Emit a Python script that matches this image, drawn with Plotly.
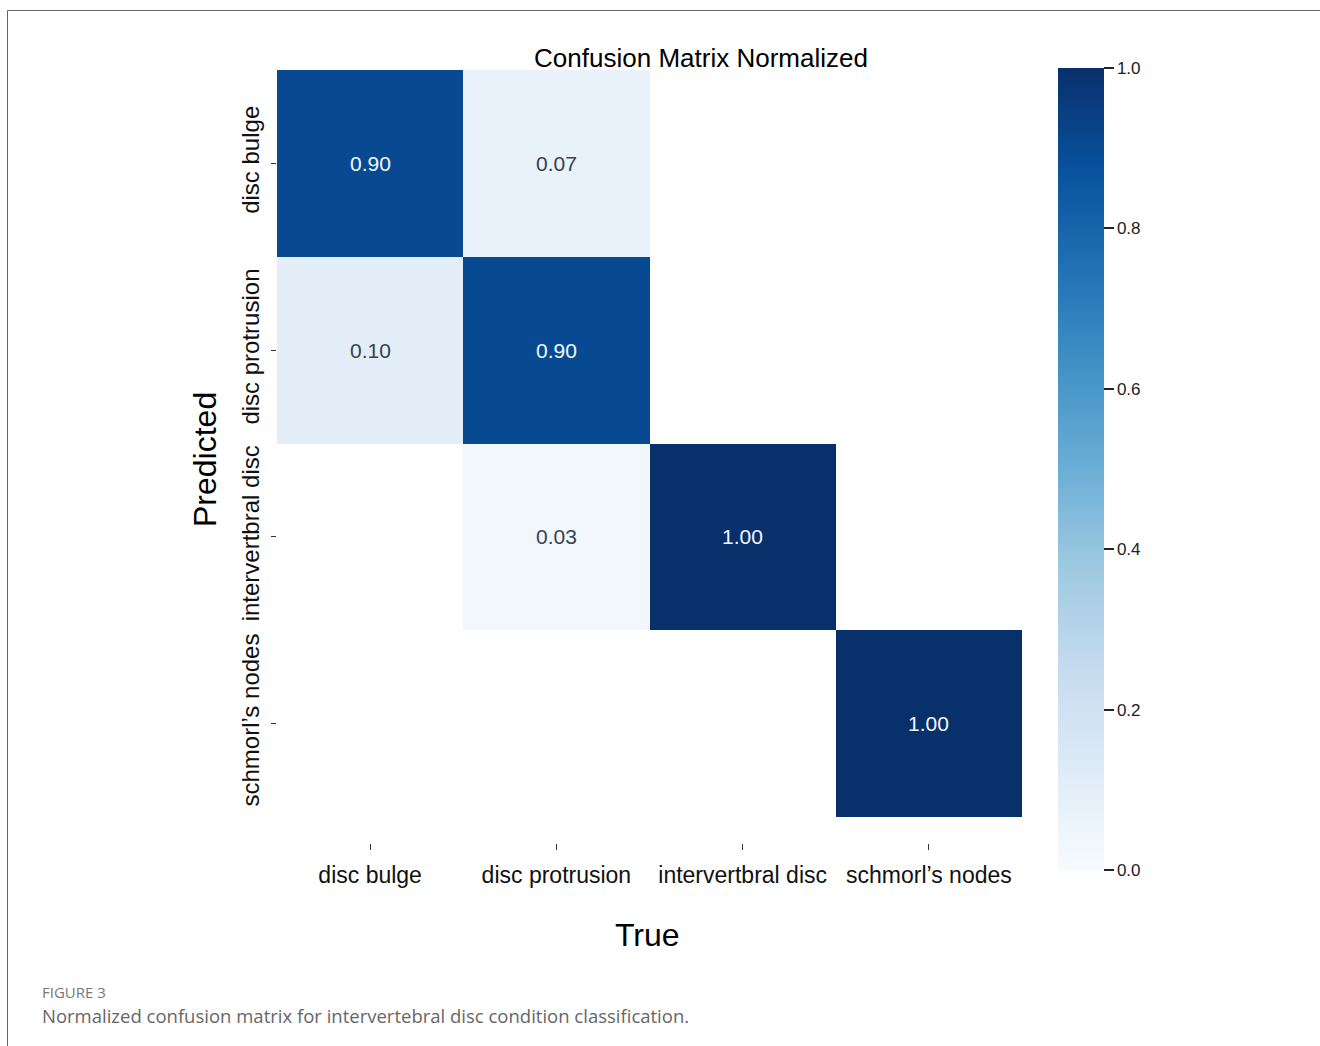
import plotly.graph_objects as go

# ---- data ----
true_labels = ["disc bulge", "disc protrusion", "intervertbral disc", "schmorl\u2019s nodes"]
pred_labels = ["disc bulge", "disc protrusion", "intervertbral disc", "schmorl\u2019s nodes"]
# rows = predicted, columns = true
row_disc_bulge = [0.90, 0.07, 0.00, 0.00]
row_disc_protrusion = [0.10, 0.90, 0.00, 0.00]
row_intervertbral = [0.00, 0.03, 1.00, 0.00]
row_schmorl = [0.00, 0.00, 0.00, 1.00]
matrix = [row_disc_bulge, row_disc_protrusion, row_intervertbral, row_schmorl]
cbar_ticks = [0.0, 0.2, 0.4, 0.6, 0.8, 1.0]

# ---- layout geometry (pixels) ----
W, H = 1320, 1046
L, R, T, B = 277, 1022, 70, 843
pw, ph = R - L, B - T

def px(xp):
    return (xp - L) / pw

def py(yp):
    return (B - yp) / ph

masked = [[v if v > 0 else None for v in row] for row in matrix]

fig = go.Figure()
fig.add_trace(go.Heatmap(
    z=masked, x=true_labels, y=pred_labels,
    colorscale="Blues", zmin=0, zmax=1,
    hoverongaps=False,
    colorbar=dict(
        x=px(1058), xanchor="left",
        y=py(870), yanchor="bottom",
        lenmode="pixels", len=802,
        thickness=46, xpad=0, ypad=0,
        outlinewidth=0,
        tickvals=cbar_ticks, ticktext=[f"{t:.1f}" for t in cbar_ticks],
        ticks="outside", ticklen=10, tickwidth=1.5, tickcolor="#222",
        tickfont=dict(family="Liberation Sans, Arial", size=17, color="#222"),
    ),
))

annotations = []
for i, row in enumerate(matrix):
    for j, v in enumerate(row):
        if v > 0:
            annotations.append(dict(
                x=true_labels[j], y=pred_labels[i], xref="x", yref="y",
                text=f"{v:.2f}", showarrow=False,
                font=dict(family="Liberation Sans, Arial", size=21,
                          color="#f4f7fc" if v > 0.5 else "#3b414c"),
            ))

annotations += [
    dict(x=px(205), y=py(460), xref="paper", yref="paper", text="Predicted",
         textangle=-90, showarrow=False, xanchor="center", yanchor="middle",
         font=dict(family="Liberation Sans, Arial", size=32, color="#000")),
    dict(x=px(647), y=py(935), xref="paper", yref="paper", text="True",
         showarrow=False, xanchor="center", yanchor="middle",
         font=dict(family="Liberation Sans, Arial", size=32, color="#000")),
    dict(x=px(40), y=py(992), xref="paper", yref="paper", text="FIGURE 3",
         showarrow=False, xanchor="left", yanchor="middle",
         font=dict(family="Open Sans", size=15, color="#777")),
    dict(x=px(40), y=py(1015), xref="paper", yref="paper",
         text="Normalized confusion matrix for intervertebral disc condition classification.",
         showarrow=False, xanchor="left", yanchor="middle",
         font=dict(family="Open Sans", size=18.5, color="#666")),
]

shapes = [
    dict(type="line", xref="paper", yref="paper", x0=px(7.5), x1=px(1320), y0=py(10.5), y1=py(10.5),
         line=dict(color="#666", width=1)),
    dict(type="line", xref="paper", yref="paper", x0=px(7.5), x1=px(7.5), y0=py(10.5), y1=py(1046),
         line=dict(color="#666", width=1)),
]

fig.update_layout(
    width=W, height=H,
    margin=dict(l=L, r=W - R, t=T, b=H - B),
    paper_bgcolor="white", plot_bgcolor="white",
    title=dict(text="Confusion Matrix Normalized", xref="paper", x=px(701), xanchor="center",
               yref="container", y=1 - 58 / H, yanchor="middle",
               font=dict(family="Liberation Sans, Arial", size=26, color="#000")),
    annotations=annotations, shapes=shapes,
    showlegend=False,
)
fig.update_xaxes(
    range=[-0.5, 3.5], showgrid=False, zeroline=False, showline=False,
    ticks="outside", ticklen=6, tickwidth=1.2, tickcolor="#333",
    ticklabelstandoff=5,
    tickfont=dict(family="Liberation Sans, Arial", size=23, color="#111"),
)
fig.update_yaxes(
    range=[3.5 + 26 / 187, -0.5], showgrid=False, zeroline=False, showline=False,
    ticks="outside", ticklen=5, tickwidth=1.2, tickcolor="#333",
    tickangle=-90, ticklabelstandoff=2,
    tickfont=dict(family="Liberation Sans, Arial", size=24, color="#111"),
)

fig.write_html("out.html")
